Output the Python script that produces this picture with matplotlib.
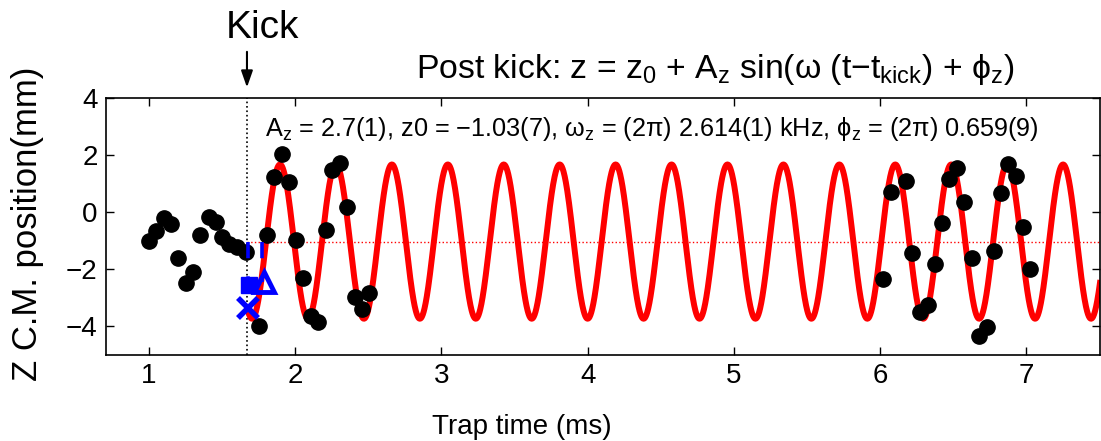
import numpy as np
import matplotlib
matplotlib.use("Agg")
import matplotlib.pyplot as plt

plt.rcParams["font.family"] = ["Liberation Sans", "DejaVu Sans"]
plt.rcParams["mathtext.default"] = "regular"

# --- measured centre-of-mass positions (ms, mm) ---
t_pre = [1.00, 1.05, 1.10, 1.15, 1.20, 1.25, 1.30, 1.35, 1.41, 1.46, 1.50, 1.55, 1.60, 1.66]
z_pre = [-1.00, -0.65, -0.22, -0.42, -1.62, -2.47, -2.09, -0.80, -0.16, -0.34, -0.86, -1.10, -1.21, -1.39]

t_post = [1.755, 1.805, 1.855, 1.91, 1.96, 2.005, 2.055, 2.106, 2.154, 2.21, 2.254, 2.306,
          2.352, 2.41, 2.459, 2.507]
z_post = [-3.99, -0.80, 1.23, 2.05, 1.06, -0.96, -2.32, -3.64, -3.84, -0.63, 1.49, 1.72,
          0.17, -2.96, -3.39, -2.82]

t_late = [6.02, 6.072, 6.178, 6.22, 6.275, 6.326, 6.376, 6.424, 6.474, 6.525, 6.575, 6.627,
          6.68, 6.73, 6.78, 6.828, 6.877, 6.928, 6.976, 7.026]
z_late = [-2.35, 0.69, 1.10, -1.42, -3.49, -3.25, -1.83, -0.37, 1.15, 1.55, 0.36, -1.60,
          -4.34, -4.01, -1.35, 0.67, 1.70, 1.26, -0.51, -2.00]

# --- fit result after the kick ---
t_kick = 1.67
A_z = 2.7
z0 = -1.03
f_z = 2.614      # kHz
phi_z = 0.659    # units of 2*pi

# --- blue reference marks at the kick ---
sq_t, sq_z = 1.684, -2.55
tri_t, tri_z = 1.787, -2.45
x_t, x_z = 1.674, -3.34

fig = plt.figure(figsize=(11.01, 4.41), dpi=100)
ax = fig.add_axes([0.0963, 0.195, 0.903, 0.583])

t_fit = np.linspace(t_kick, 7.6, 3000)
z_fit = z0 + A_z * np.sin(2 * np.pi * (f_z * (t_fit - t_kick) + phi_z))

ax.axvline(t_kick, color="black", ls=":", lw=1.2, zorder=1)
ax.plot([t_kick, 7.6], [z0, z0], color="red", ls=":", lw=1.0, zorder=1)
ax.plot(t_fit, z_fit, color="red", lw=4.3, zorder=2, solid_capstyle="butt")

for tt, zz in [(t_pre, z_pre), (t_post, z_post), (t_late, z_late)]:
    ax.plot(tt, zz, "o", color="black", ms=11, zorder=5, ls="none")

ax.plot([sq_t - 0.005, sq_t - 0.005], [z0, sq_z], color="blue", lw=2.6, dashes=(4.5, 5), zorder=6)
ax.plot([tri_t - 0.012, tri_t - 0.012], [z0, tri_z], color="blue", lw=2.6, dashes=(4.5, 5), zorder=6)
ax.plot(sq_t, sq_z, "s", color="blue", ms=11, zorder=6)
ax.plot(tri_t, tri_z, "^", mfc="none", mec="blue", mew=3.5, ms=14, zorder=6)
ax.plot(x_t, x_z, "x", color="blue", mew=4, ms=15, zorder=6)

ax.set_xlim(0.706, 7.506)
ax.set_ylim(-5, 4)
ax.set_xticks([1, 2, 3, 4, 5, 6, 7])
ax.set_yticks([-4, -2, 0, 2, 4])
ax.set_yticklabels(["\u22124", "\u22122", "0", "2", "4"])
ax.tick_params(direction="in", length=6, width=1, top=True, right=True, labelsize=20, pad=6)
for s in ax.spines.values():
    s.set_linewidth(1.2)

ax.set_xlabel("Trap time (ms)", fontsize=20)
ax.xaxis.set_label_coords(0.418, -0.228)
ax.set_ylabel("Z C.M. position(mm)", fontsize=25)
ax.yaxis.set_label_coords(-0.062, 0.51)

ax.text(0.613, 1.078,
        "Post kick: z = z$_0$ + A$_z$ sin(\u03c9 (t\u2212t$_{kick}$) + \u03d5$_z$)",
        transform=ax.transAxes, ha="center", va="baseline", fontsize=24.3)
ax.text(0.16, 0.852,
        "A$_z$ = 2.7(1), z0 = \u22121.03(7), \u03c9$_z$ = (2\u03c0) 2.614(1) kHz, "
        "\u03d5$_z$ = (2\u03c0) 0.659(9)",
        transform=ax.transAxes, ha="left", va="baseline", fontsize=18.2)

trans = ax.get_xaxis_transform()
ax.annotate("", xy=(t_kick, 1.03), xytext=(t_kick, 1.19), xycoords=trans, textcoords=trans,
            arrowprops=dict(arrowstyle="-|>,head_width=0.35,head_length=1.0", color="black", lw=1.5))
ax.text(1.773, 1.27, "Kick", transform=trans, ha="center", va="center", fontsize=28)

fig.savefig("out.png", dpi=100)
